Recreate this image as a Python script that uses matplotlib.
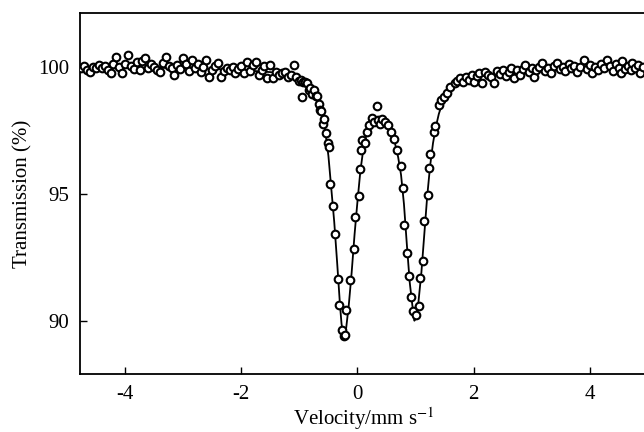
import matplotlib
matplotlib.use("Agg")
import matplotlib.pyplot as plt

# ---- measured data points (velocity mm/s, transmission %) ----
vel_left_wing = [-4.75, -4.70, -4.65, -4.60, -4.55, -4.50, -4.45, -4.40, -4.35, -4.30,
                 -4.25, -4.20, -4.15, -4.10, -4.05, -4.00, -3.95, -3.90, -3.85, -3.80,
                 -3.75, -3.70, -3.65, -3.60, -3.55, -3.50, -3.45, -3.40, -3.35, -3.30,
                 -3.25, -3.20, -3.15, -3.10, -3.05, -3.00, -2.95, -2.90, -2.85, -2.80,
                 -2.75, -2.70, -2.65, -2.60, -2.55, -2.50, -2.45, -2.40, -2.35, -2.30,
                 -2.25, -2.20, -2.15, -2.10, -2.05, -2.00, -1.95, -1.90, -1.85, -1.80,
                 -1.75, -1.70, -1.65, -1.60, -1.55, -1.50, -1.45, -1.40, -1.35, -1.30,
                 -1.25, -1.20, -1.15, -1.10, -1.05]
trans_left_wing = [99.95, 100.05, 99.90, 99.82, 100.02, 99.96, 100.08, 99.98, 100.06, 99.88,
                   99.75, 100.12, 100.41, 100.02, 99.75, 100.10, 100.47, 100.05, 99.92, 100.18,
                   99.88, 100.22, 100.34, 99.98, 100.12, 100.02, 99.90, 99.82, 100.15, 100.38,
                   100.05, 99.95, 99.69, 100.08, 99.92, 100.34, 100.10, 99.86, 100.28, 99.96,
                   100.12, 99.80, 100.02, 100.28, 99.62, 99.90, 100.06, 100.15, 99.62, 99.85,
                   99.96, 99.88, 100.02, 99.78, 99.92, 100.04, 99.75, 100.21, 99.86, 100.08,
                   100.21, 99.69, 99.90, 100.05, 99.55, 100.08, 99.55, 99.82, 99.70, 99.75,
                   99.82, 99.60, 99.68, 100.08, 99.62]

vel_center = [-1.00, -0.98, -0.95, -0.93, -0.895, -0.866, -0.84, -0.809, -0.78, -0.752,
              -0.72, -0.694, -0.67, -0.649, -0.62, -0.597, -0.58, -0.54, -0.504, -0.482,
              -0.465, -0.418, -0.379, -0.332, -0.31, -0.263, -0.236, -0.207, -0.189, -0.12,
              -0.064, -0.034, 0.022, 0.040, 0.069, 0.081, 0.138, 0.167, 0.207, 0.253,
              0.29, 0.339, 0.35, 0.39, 0.43, 0.47, 0.52, 0.58, 0.625, 0.683,
              0.752, 0.78, 0.797, 0.855, 0.884, 0.929, 0.958, 1.015, 1.055, 1.072,
              1.124, 1.153, 1.21, 1.227, 1.256, 1.313, 1.342, 1.40, 1.43, 1.485,
              1.544, 1.60, 1.686]
trans_center = [99.45, 99.49, 98.83, 99.40, 99.42, 99.36, 99.10, 99.16, 98.95, 99.09,
                98.85, 98.86, 98.55, 98.31, 98.25, 97.76, 97.94, 97.40, 97.02, 96.86,
                95.39, 94.53, 93.41, 91.66, 90.61, 89.65, 89.38, 89.45, 90.43, 91.61,
                92.83, 94.08, 94.92, 95.97, 96.73, 97.13, 97.00, 97.45, 97.72, 97.98,
                97.85, 98.46, 97.90, 97.75, 97.95, 97.85, 97.70, 97.45, 97.15, 96.73,
                96.11, 95.22, 93.78, 92.67, 91.78, 90.92, 90.37, 90.24, 90.59, 91.67,
                92.35, 93.95, 94.96, 96.01, 96.56, 97.45, 97.69, 98.50, 98.70, 98.83,
                98.96, 99.22, 99.36]

vel_right_wing = [1.72, 1.77, 1.82, 1.87, 1.92, 1.97, 2.00, 2.05, 2.10, 2.15,
                  2.20, 2.25, 2.29, 2.35, 2.40, 2.45, 2.50, 2.55, 2.60, 2.65,
                  2.69, 2.75, 2.80, 2.85, 2.89, 2.95, 3.00, 3.03, 3.08, 3.13,
                  3.18, 3.23, 3.28, 3.33, 3.38, 3.44, 3.48, 3.53, 3.58, 3.64,
                  3.68, 3.73, 3.78, 3.83, 3.90, 3.95, 4.00, 4.04, 4.09, 4.14,
                  4.19, 4.24, 4.30, 4.35, 4.40, 4.45, 4.50, 4.53, 4.56, 4.61,
                  4.66, 4.70, 4.73, 4.78, 4.83, 4.87, 4.91]
trans_right_wing = [99.45, 99.58, 99.40, 99.62, 99.50, 99.70, 99.42, 99.66, 99.75, 99.36,
                    99.80, 99.68, 99.62, 99.36, 99.85, 99.72, 99.90, 99.65, 99.80, 99.95,
                    99.55, 99.88, 99.70, 99.92, 100.08, 99.80, 99.95, 99.62, 99.90, 100.02,
                    100.17, 99.85, 99.98, 99.78, 100.05, 100.17, 99.92, 100.02, 99.85, 100.12,
                    99.95, 100.05, 99.82, 100.00, 100.28, 99.92, 100.08, 99.75, 100.02, 99.90,
                    100.12, 99.96, 100.28, 100.05, 99.85, 100.10, 99.98, 99.75, 100.25, 99.92,
                    100.06, 99.88, 100.17, 99.96, 100.08, 99.75, 100.02]

# ---- fitted curve ----
fit_vel = [-4.78, -4.0, -3.0, -2.5, -2.0, -1.5, -1.25, -1.0, -0.9, -0.8,
           -0.7, -0.65, -0.6, -0.55, -0.5, -0.45, -0.4, -0.35, -0.3, -0.275,
           -0.25, -0.235, -0.215, -0.2, -0.175, -0.15, -0.1, -0.05, 0.0, 0.025,
           0.05, 0.1, 0.15, 0.2, 0.25, 0.3, 0.35, 0.4, 0.45, 0.5,
           0.55, 0.6, 0.65, 0.7, 0.75, 0.8, 0.85, 0.9, 0.95, 0.98,
           1.0, 1.025, 1.05, 1.1, 1.15, 1.2, 1.25, 1.3, 1.35, 1.4,
           1.45, 1.5, 1.6, 1.75, 2.0, 2.5, 3.0, 3.5, 4.0, 5.0]
fit_trans = [100.0, 99.98, 99.96, 99.93, 99.88, 99.80, 99.70, 99.52, 99.38, 99.15,
             98.78, 98.45, 98.0, 97.4, 96.5, 95.2, 93.9, 92.3, 90.6, 89.9,
             89.45, 89.3, 89.4, 89.6, 90.1, 90.6, 91.9, 93.4, 94.7, 95.3,
             95.9, 96.75, 97.3, 97.65, 97.85, 97.95, 97.97, 97.95, 97.88, 97.75,
             97.55, 97.3, 96.95, 96.45, 95.75, 94.6, 93.0, 91.5, 90.5, 90.0,
             90.1, 90.3, 90.75, 91.9, 93.4, 94.9, 96.1, 97.0, 97.65, 98.15,
             98.5, 98.75, 99.08, 99.35, 99.58, 99.78, 99.90, 99.95, 99.98, 100.0]

x_ticks = [-4, -2, 0, 2, 4]
y_ticks = [90, 95, 100]

plt.rcParams['font.family'] = ['Liberation Serif', 'DejaVu Serif']
plt.rcParams['mathtext.fontset'] = 'stix'
plt.rcParams['axes.unicode_minus'] = False

fig = plt.figure(figsize=(6.44, 4.32), dpi=100)
ax = fig.add_axes([80 / 644, 1 - 374 / 432, 568 / 644, (374 - 13) / 432])

vel_all = vel_left_wing + vel_center + vel_right_wing
trans_all = trans_left_wing + trans_center + trans_right_wing

ax.plot(fit_vel, fit_trans, color='black', lw=1.3, zorder=2)
ax.plot(vel_all, trans_all, linestyle='none', marker='o', ms=5.5,
        mfc='white', mec='black', mew=1.5, zorder=3)

ax.set_xlim(-4.775, 5.0)
ax.set_ylim(87.9, 102.13)
ax.set_xticks(x_ticks)
ax.set_xticklabels([str(t) for t in x_ticks])
ax.set_yticks(y_ticks)
ax.tick_params(direction='in', length=5, width=1.0, labelsize=15,
               top=False, right=False, pad=8)
for s in ax.spines.values():
    s.set_linewidth(1.3)
ax.spines['right'].set_visible(False)

ax.set_xlabel('Velocity/mm s$^{-1}$', fontsize=15, labelpad=1)
ax.set_ylabel('Transmission (%)', fontsize=15, labelpad=4)

fig.savefig('out.png', dpi=100)
